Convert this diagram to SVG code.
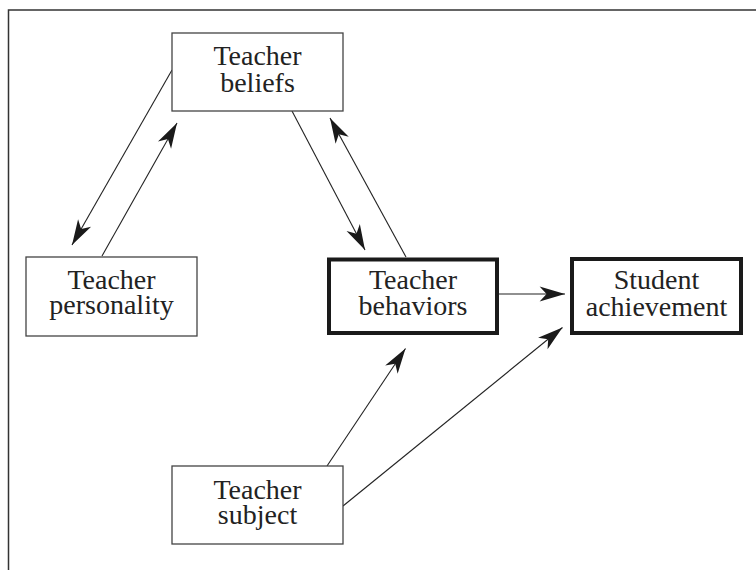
<svg xmlns="http://www.w3.org/2000/svg" width="756" height="570" viewBox="0 0 756 570">
  <style>
    .box { fill: #fff; stroke: #444; stroke-width: 1.3; }
    .key { fill: #fff; stroke: #1a1a1a; stroke-width: 4; }
    .label { font-family: "Liberation Serif", "Times New Roman", serif; font-size: 28px; fill: #222; text-anchor: middle; }
    .link { fill: none; stroke: #222; stroke-width: 1.1; marker-end: url(#head); }
    .frame { fill: none; stroke: #333; stroke-width: 1.5; }
  </style>
  <defs>
    <marker id="head" markerUnits="userSpaceOnUse" markerWidth="30" markerHeight="20" viewBox="-24 -8 26 16" refX="0" refY="0" orient="auto">
      <path d="M0,0 L-22,-6.5 L-16,0 L-22,6.5 Z" fill="#1a1a1a"/>
    </marker>
  </defs>

  <!-- open frame: left and top rules -->
  <path class="frame" d="M8.5,570 V10 H756"/>

  <g id="connectors">
    <line class="link" x1="172" y1="70" x2="72" y2="245"/>
    <line class="link" x1="102" y1="256" x2="177" y2="123"/>
    <line class="link" x1="292" y1="111" x2="365" y2="250"/>
    <line class="link" x1="406" y1="257" x2="330" y2="118"/>
    <line class="link" x1="497" y1="294" x2="565" y2="294"/>
    <line class="link" x1="327" y1="466" x2="405.5" y2="348.5"/>
    <line class="link" x1="343" y1="506" x2="562.5" y2="327.5"/>
  </g>

  <g id="teacher-beliefs">
    <rect class="box" x="172" y="33" width="171" height="78"/>
    <text class="label" x="257.5" y="65">Teacher</text>
    <text class="label" x="257.5" y="91.5">beliefs</text>
  </g>

  <g id="teacher-personality">
    <rect class="box" x="26" y="257" width="171" height="79"/>
    <text class="label" x="111.5" y="288.5">Teacher</text>
    <text class="label" x="111.5" y="314">personality</text>
  </g>

  <g id="teacher-behaviors">
    <rect class="key" x="329" y="259.5" width="168" height="73.5"/>
    <text class="label" x="413" y="288.5">Teacher</text>
    <text class="label" x="413" y="315">behaviors</text>
  </g>

  <g id="student-achievement">
    <rect class="key" x="572" y="259" width="169" height="74"/>
    <text class="label" x="656.5" y="288.5">Student</text>
    <text class="label" x="656.5" y="315.5">achievement</text>
  </g>

  <g id="teacher-subject">
    <rect class="box" x="172" y="466" width="171" height="78"/>
    <text class="label" x="257.5" y="498.5">Teacher</text>
    <text class="label" x="257.5" y="523.5">subject</text>
  </g>
</svg>
